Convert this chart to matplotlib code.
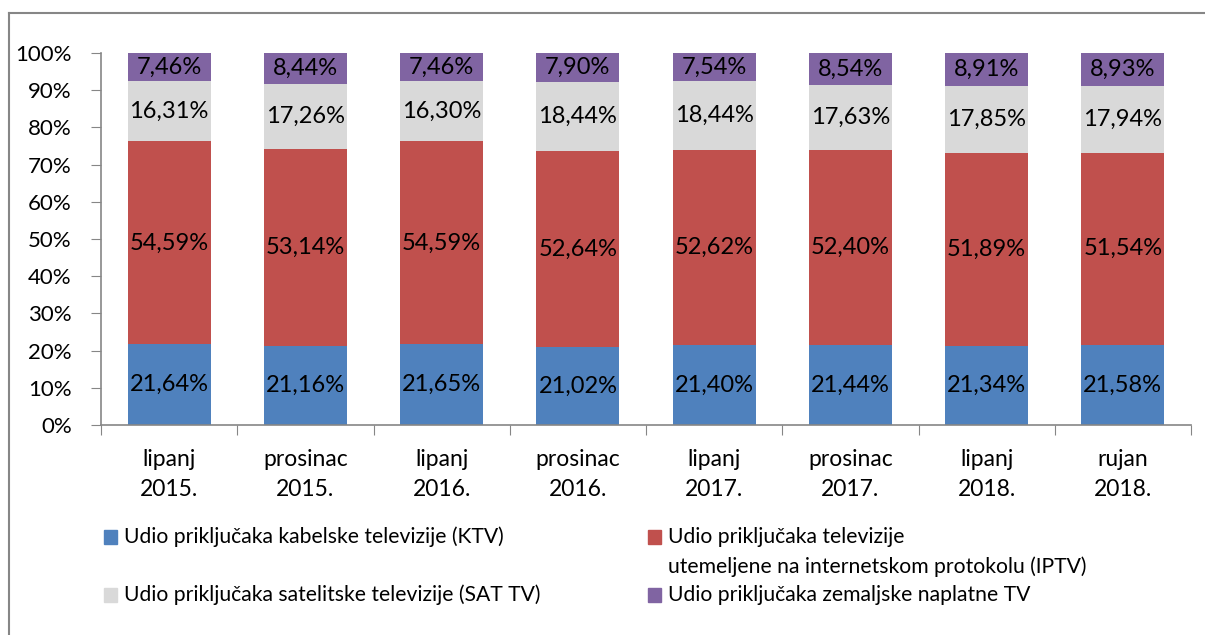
import numpy as np
import matplotlib
matplotlib.use("Agg")
import matplotlib.pyplot as plt
from matplotlib.patches import Rectangle
from matplotlib.lines import Line2D

plt.rcParams['font.family'] = ['Lato', 'DejaVu Sans']

# === data ===
categories = ["lipanj\n2015.", "prosinac\n2015.", "lipanj\n2016.", "prosinac\n2016.",
              "lipanj\n2017.", "prosinac\n2017.", "lipanj\n2018.", "rujan\n2018."]
ktv = [21.64, 21.16, 21.65, 21.02, 21.40, 21.44, 21.34, 21.58]
iptv = [54.59, 53.14, 54.59, 52.64, 52.62, 52.40, 51.89, 51.54]
sat = [16.31, 17.26, 16.30, 18.44, 18.44, 17.63, 17.85, 17.94]
zem = [7.46, 8.44, 7.46, 7.90, 7.54, 8.54, 8.91, 8.93]

series_names = ["Udio priključaka kabelske televizije (KTV)",
                "Udio priključaka televizije\nutemeljene na internetskom protokolu (IPTV)",
                "Udio priključaka satelitske televizije (SAT TV)",
                "Udio priključaka zemaljske naplatne TV"]
colors = ["#4F81BD", "#C0504D", "#D9D9D9", "#8064A2"]
grey = "#868686"

W, H = 1205, 635
fig = plt.figure(figsize=(W / 100, H / 100), dpi=100)
ax = fig.add_axes([101 / W, 1 - 425 / H, (1191 - 101) / W, (425 - 53) / H])

x = np.arange(len(categories))
data = np.array([ktv, iptv, sat, zem])
totals = data.sum(axis=0)
shares = data / totals * 100
bottom = np.zeros(len(categories))
for vals, shr, col in zip(data, shares, colors):
    ax.bar(x, shr, bottom=bottom, width=0.61, color=col, edgecolor="none")
    for xi, b, s, v in zip(x, bottom, shr, vals):
        ax.text(xi, b + s / 2, f"{v:.2f}%".replace(".", ","), ha="center",
                va="center", fontsize=17, color="black")
    bottom += shr

ax.set_xlim(-0.5, len(categories) - 0.5)
ax.set_ylim(0, 100)
ax.set_yticks(np.arange(0, 101, 10))
ax.set_yticklabels([f"{v}%" for v in range(0, 101, 10)], fontsize=16)
ax.set_xticks(np.arange(-0.5, len(categories), 1))
ax.set_xticklabels([])
ax.set_xticks(x, minor=True)
ax.set_xticklabels(categories, minor=True, fontsize=16.5, linespacing=1.55)
ax.tick_params(axis="x", which="minor", length=0, pad=17)
ax.tick_params(axis="x", which="major", length=7, color=grey, direction="out")
ax.tick_params(axis="y", length=7, color=grey, pad=14)
for s in ["top", "right"]:
    ax.spines[s].set_visible(False)
for s in ["left", "bottom"]:
    ax.spines[s].set_color(grey)
    ax.spines[s].set_linewidth(1.2)

# legend drawn by hand so the rows line up like the original
leg_pos = [(104, 537), (648, 537), (104, 595), (648, 595)]
for (px, py), name, col in zip(leg_pos, series_names, colors):
    fig.patches.append(Rectangle((px / W, 1 - (py + 7) / H), 13 / W, 14 / H,
                                 transform=fig.transFigure, color=col))
    for i, line in enumerate(name.split("\n")):
        fig.text((px + 20) / W, 1 - (py + 30 * i) / H, line, ha="left", va="center",
                 fontsize=15.2, transform=fig.transFigure)

# chart frame
fig.add_artist(Line2D([9 / W, 9 / W], [0, 1 - 13 / H], color=grey, lw=1.5))
fig.add_artist(Line2D([9 / W, 1], [1 - 13 / H, 1 - 13 / H], color=grey, lw=1.5))

fig.savefig("out.png", dpi=100)
